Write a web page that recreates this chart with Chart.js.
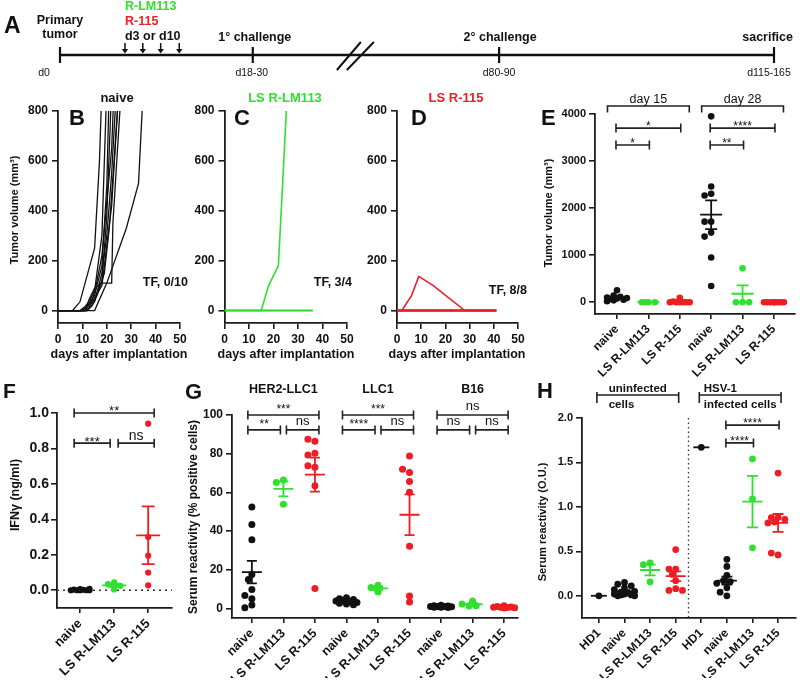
<!DOCTYPE html>
<html>
<head>
<meta charset="utf-8">
<script src="https://cdn.jsdelivr.net/npm/chart.js@4.4.1/dist/chart.umd.min.js"></script>
<style>
html,body{margin:0;padding:0;background:#fff;}
#wrap{position:relative;width:800px;height:685px;overflow:hidden;background:#fff;}
#wrap canvas{position:absolute;left:0;top:0;width:800px;height:685px;}
</style>
</head>
<body>
<div id="wrap">
<canvas id="cA" width="800" height="685"></canvas>
<canvas id="cB" width="800" height="685"></canvas>
<canvas id="cC" width="800" height="685"></canvas>
<canvas id="cD" width="800" height="685"></canvas>
<canvas id="cE" width="800" height="685"></canvas>
<canvas id="cF" width="800" height="685"></canvas>
<canvas id="cG" width="800" height="685"></canvas>
<canvas id="cH" width="800" height="685"></canvas>
</div>
<script>
// ======================= DATA =======================
// Panel A (schematic timeline, positions along a 0-100 schematic axis)
const A_dateLabels = ['d0', 'd18-30', 'd80-90', 'd115-165'];
const A_eventNames = ['', '1° challenge', '2° challenge', 'sacrifice'];
const A_eventPos = [0, 27, 61.5, 100];
const A_arrowPos = [9.1, 11.6, 14.1, 16.7];
const A_breakPos = 41.3;

// Panels B-D: tumour growth curves (days after implantation, volume mm3)
const BCD_xTicks = [0, 10, 20, 30, 40, 50];
const BCD_yTicks = [0, 200, 400, 600, 800];
const B_days = [
  [0, 6, 9, 15, 17, 18],
  [0, 9, 11, 13, 15, 18, 20],
  [0, 10, 13, 15, 18, 20, 21],
  [0, 10, 12, 15, 18, 20, 22],
  [0, 11, 13, 15, 18, 22, 23],
  [0, 11, 13, 15, 18, 20, 22, 24],
  [0, 12, 15, 18, 22, 25],
  [0, 11, 13, 15, 18, 22, 22.5, 26],
  [0, 12, 14, 16, 19, 21, 23, 25],
  [0, 15, 20, 28, 33, 35]
];
const B_vol = [
  [0, 0, 35, 250, 600, 900],
  [0, 0, 15, 40, 80, 300, 900],
  [0, 0, 30, 60, 180, 500, 900],
  [0, 0, 20, 45, 120, 380, 900],
  [0, 0, 25, 70, 220, 650, 900],
  [0, 0, 10, 35, 150, 300, 550, 900],
  [0, 0, 50, 100, 420, 900],
  [0, 0, 50, 90, 110, 110, 350, 900],
  [0, 0, 20, 60, 150, 330, 600, 900],
  [0, 0, 110, 330, 510, 900]
];
const C_days = [[0, 15, 18, 22, 24, 26], [0, 36], [0, 36], [0, 36]];
const C_vol = [[0, 0, 100, 180, 560, 950], [0, 0], [0, 0], [0, 0]];
const D_days = [[0, 2, 6, 9, 15, 28, 41], [0, 41], [0, 41], [0, 41], [0, 41], [0, 41], [0, 41], [0, 41]];
const D_vol = [[0, 0, 60, 137, 100, 0, 0], [0, 0], [0, 0], [0, 0], [0, 0], [0, 0], [0, 0], [0, 0]];

// Panel E: tumour volume at day 15 / day 28
const E_categories = ['naive', 'LS R-LM113', 'LS R-115', 'naive', 'LS R-LM113', 'LS R-115'];
const E_yTicks = [0, 1000, 2000, 3000, 4000];
const E_naive15 = [255, 140, 115, 100, 90, 80, 70, 55, 40, 20];
const E_lm15 = [0, 0, 0, 0];
const E_r15 = [95, 15, 0, 0, 0, 0, 0, 0];
const E_naive28 = [3950, 2459, 2304, 2269, 1712, 1712, 1480, 1395, 951, 345];
const E_lm28 = [720, 0, 0, 0];
const E_r28 = [0, 0, 0, 0, 0, 0, 0, 0];
const E_mean = [96, 0, 14, 1860, 180, 0];
const E_sem = [22, 0, 12, 305, 180, 0];
const E_headers = ['day 15', 'day 28'];
const E_headerRanges = [[0, 2], [3, 5]];
const E_sigPairs = [[0, 2], [0, 1], [3, 5], [3, 4]];
const E_sigLabels = ['*', '*', '****', '**'];

// Panel F: IFN-gamma
const F_categories = ['naive', 'LS R-LM113', 'LS R-115'];
const F_yTicks = [0, 0.2, 0.4, 0.6, 0.8, 1.0];
const F_naive = [0, 0.004, 0, 0.008, 0, 0.003, 0, 0.006, 0, 0.002];
const F_lm113 = [0.005, 0.045, 0.035, 0.025];
const F_r115 = [0.94, 0.30, 0.195, 0.10, 0.028];
const F_mean = [0.003, 0.028, 0.31];
const F_sem = [0.001, 0.009, 0.163];
const F_sigPairs = [[0, 2], [0, 1], [1, 2]];
const F_sigLabels = ['**', '***', 'ns'];

// Panel G: serum reactivity (% positive cells)
const G_categories = ['naive', 'LS R-LM113', 'LS R-115', 'naive', 'LS R-LM113', 'LS R-115', 'naive', 'LS R-LM113', 'LS R-115'];
const G_headers = ['HER2-LLC1', 'LLC1', 'B16'];
const G_yTicks = [0, 20, 40, 60, 80, 100];
const G_her2Naive = [52.4, 43.3, 35.5, 17.5, 14.9, 9.8, 5.0, 6.7, 1.7, 0.3];
const G_her2Lm113 = [66.4, 65.1, 53.9];
const G_her2R115 = [86.4, 87.4, 80.2, 79.3, 73.0, 73.7, 63.4, 10.3];
const G_llcNaive = [5.5, 5.0, 4.6, 4.2, 3.8, 3.4, 3.0, 2.6, 2.2, 1.8];
const G_llcLm113 = [12.0, 8.5, 10.8];
const G_llcR115 = [78.8, 70.2, 71.9, 65.6, 60.1, 32.1, 3.3, 6.4];
const G_b16Naive = [1.6, 1.4, 1.2, 1.0, 1.0, 0.9, 0.8, 0.6, 0.5, 0.4];
const G_b16Lm113 = [3.8, 1.2, 1.3, 2.2];
const G_b16R115 = [1.3, 0.9, 0.7, 0.6, 0.5, 0.4, 0.3, 0.2];
const G_mean = [18.7, 61.8, 69.2, 3.4, 10.3, 48.4, 1.0, 2.1, 0.6];
const G_sem = [5.8, 3.9, 8.8, 0.4, 1.0, 10.5, 0.1, 0.6, 0.15];
const G_sigPairs = [[0, 2], [0, 1], [1, 2], [3, 5], [3, 4], [4, 5], [6, 8], [6, 7], [7, 8]];
const G_sigLabels = ['***', '**', 'ns', '***', '****', 'ns', 'ns', 'ns', 'ns'];

// Panel H: serum reactivity (O.U.)
const H_categories = ['HD1', 'naive', 'LS R-LM113', 'LS R-115', 'HD1', 'naive', 'LS R-LM113', 'LS R-115'];
const H_headers = [['uninfected', 'cells'], ['HSV-1', 'infected cells']];
const H_headerRanges = [[0, 3], [4, 7]];
const H_yTicks = [0, 0.5, 1.0, 1.5, 2.0];
const H_hd1Un = [0];
const H_naiveUn = [0.15, 0.13, 0.11, 0.09, 0.07, 0.05, 0.04, 0.03, 0.02, 0.02, 0.01, 0.0, 0.0, 0.01];
const H_lm113Un = [0.37, 0.35, 0.155];
const H_r115Un = [0.52, 0.30, 0.30, 0.24, 0.17, 0.08, 0.06, 0.06];
const H_hd1Inf = [1.67];
const H_naiveInf = [0.41, 0.33, 0.23, 0.17, 0.16, 0.14, 0.09, 0.04, 0.0];
const H_lm113Inf = [1.54, 1.09, 0.54];
const H_r115Inf = [1.38, 0.88, 0.88, 0.86, 0.83, 0.82, 0.46, 0.48];
const H_mean = [0, 0.05, 0.29, 0.22, 1.67, 0.17, 1.06, 0.82];
const H_sem = [0, 0.012, 0.06, 0.055, 0, 0.045, 0.29, 0.1];
const H_sigPairs = [[5, 7], [5, 6]];
const H_sigLabels = ['****', '****'];

// ======================= STYLE / HELPERS =======================
const FONT = "'Liberation Sans', Arial, Helvetica, sans-serif";
Chart.defaults.font.family = FONT;
Chart.defaults.color = '#111';
const INK = '#111';
const AX = '#1c1c1c';
const GREEN = '#2fe02f';
const RED = '#ee1d23';
const ROT = -Math.PI / 2;

function fnt(size, weight) { return (weight || 'bold') + ' ' + size + 'px ' + FONT; }
function drawText(ctx, t) {
  ctx.save();
  ctx.font = fnt(t.size, t.weight);
  ctx.fillStyle = t.color || INK;
  ctx.textAlign = t.align || 'center';
  ctx.textBaseline = t.base || 'middle';
  ctx.translate(t.x, t.y);
  if (t.rot) ctx.rotate(t.rot);
  ctx.fillText(t.text, 0, 0);
  ctx.restore();
}
const textPlugin = (items) => ({ id: 'txt', afterDraw(chart) { items.forEach(t => drawText(chart.ctx, t)); } });

function geom(g, yW, xH) {
  return { padding: { left: g.L - yW, right: 800 - g.R, top: g.T, bottom: 685 - g.B - xH } };
}
function axis(o) {
  return {
    type: 'linear', position: o.pos, min: o.min, max: o.max,
    afterBuildTicks: s => { s.ticks = o.ticks.map(v => ({ value: v })); },
    afterFit: s => { if (o.pos === 'left') s.width = o.size; else s.height = o.size; },
    grid: { display: true, drawOnChartArea: false, drawTicks: true, tickLength: o.tl || 6, color: AX, lineWidth: 1.6 },
    border: { display: true, color: AX, width: 1.8 },
    ticks: {
      autoSkip: false, padding: o.pad == null ? 3 : o.pad,
      maxRotation: o.rot || 0, minRotation: o.rot || 0,
      font: { size: o.fs, weight: 'bold' }, color: INK, callback: o.fmt
    }
  };
}
function build(id, datasets, scales, layout, plugins) {
  return new Chart(document.getElementById(id), {
    type: 'scatter',
    data: { datasets },
    options: {
      responsive: false, animation: false, events: [], layout, scales,
      plugins: { legend: { display: false }, tooltip: { enabled: false } }
    },
    plugins
  });
}
// beeswarm-like horizontal spreading of overlapping dots (layout only)
function swarm(vals, pxV, pxC, r) {
  const minD = 1.7 * r, step = r, maxK = 6;
  const placed = [];
  return vals.map(v => {
    const y = v * pxV;
    let best = 0, bestD = -1;
    for (let k = 0; k <= maxK; k++) {
      const x = (k % 2 ? -1 : 1) * Math.ceil(k / 2) * step;
      let d = Infinity;
      for (const p of placed) d = Math.min(d, Math.hypot(p.x - x, p.y - y));
      if (d >= minD) { best = x; break; }
      if (d > bestD) { bestD = d; best = x; }
    }
    placed.push({ x: best, y });
    return best / pxC;
  });
}
function errPlugin(means, sems, colors, mh, ch, lw) {
  return {
    id: 'err', afterDatasetsDraw(chart) {
      const { ctx, scales: { x, y } } = chart;
      ctx.save(); ctx.lineWidth = lw;
      means.forEach((m, i) => {
        const px = x.getPixelForValue(i), py = y.getPixelForValue(m);
        const half = Array.isArray(mh) ? mh[i] : mh;
        ctx.strokeStyle = colors[i];
        ctx.beginPath(); ctx.moveTo(px - half, py); ctx.lineTo(px + half, py);
        const s = sems[i];
        if (s) {
          const yt = y.getPixelForValue(m + s), yb = y.getPixelForValue(m - s);
          ctx.moveTo(px, yt); ctx.lineTo(px, yb);
          ctx.moveTo(px - ch, yt); ctx.lineTo(px + ch, yt);
          ctx.moveTo(px - ch, yb); ctx.lineTo(px + ch, yb);
        }
        ctx.stroke();
      });
      ctx.restore();
    }
  };
}
function sigPlugin(pairs, labels, rowVals, st) {
  return {
    id: 'sig', afterDraw(chart) {
      const { ctx, scales: { x, y } } = chart;
      ctx.save(); ctx.strokeStyle = '#222'; ctx.lineWidth = 1.6; ctx.fillStyle = INK;
      pairs.forEach((p, k) => {
        const [a, b] = p;
        const xl = x.getPixelForValue(a) + (pairs.some(q => q[1] === a) ? st.gap : -st.ext);
        const xr = x.getPixelForValue(b) + (pairs.some(q => q[0] === b) ? -st.gap : st.ext);
        const rowIdx = (b - a > 1) ? 0 : 1;
        const yy = y.getPixelForValue(rowVals[rowIdx]);
        ctx.beginPath();
        ctx.moveTo(xl, yy); ctx.lineTo(xr, yy);
        ctx.moveTo(xl, yy - 4.5); ctx.lineTo(xl, yy + 4.5);
        ctx.moveTo(xr, yy - 4.5); ctx.lineTo(xr, yy + 4.5);
        ctx.stroke();
        const lab = labels[k];
        const isNs = lab === 'ns';
        const size = isNs ? st.nsSize : st.starSize;
        const lift = isNs ? st.nsLift : st.starLift;
        ctx.font = fnt(size, 'normal');
        ctx.textAlign = 'center'; ctx.textBaseline = 'alphabetic';
        const base = yy - lift + (isNs ? 0.26 : 0.57) * size;
        ctx.fillText(lab, (xl + xr) / 2, base);
      });
      ctx.restore();
    }
  };
}

// ======================= PANEL A =======================
const GA = { L: 60, R: 774, T: 40, B: 70 };
new Chart(document.getElementById('cA'), {
  type: 'scatter',
  data: {
    datasets: [
      { data: [{ x: 0, y: 0 }, { x: 100, y: 0 }], showLine: true, borderColor: INK, borderWidth: 2.6, pointRadius: 0, clip: false },
      { data: A_eventPos.map(p => ({ x: p, y: 0 })), pointStyle: 'line', pointRotation: 90, pointRadius: 8, borderColor: INK, borderWidth: 2.2, clip: false }
    ]
  },
  options: {
    responsive: false, animation: false, events: [],
    layout: { padding: { left: GA.L, right: 800 - GA.R, top: GA.T, bottom: 685 - GA.B } },
    scales: { x: { type: 'linear', min: 0, max: 100, display: false }, y: { type: 'linear', min: -1, max: 1, display: false } },
    plugins: { legend: { display: false }, tooltip: { enabled: false } }
  },
  plugins: [{
    id: 'timeline', afterDraw(chart) {
      const { ctx, scales: { x, y } } = chart;
      const y0 = y.getPixelForValue(0);
      ctx.save();
      ctx.strokeStyle = INK; ctx.fillStyle = INK; ctx.lineWidth = 1.5;
      A_arrowPos.forEach(p => {
        const px = x.getPixelForValue(p);
        ctx.beginPath(); ctx.moveTo(px, y0 - 12); ctx.lineTo(px, y0 - 5); ctx.stroke();
        ctx.beginPath(); ctx.moveTo(px - 3.2, y0 - 6); ctx.lineTo(px + 3.2, y0 - 6); ctx.lineTo(px, y0 - 1.5); ctx.closePath(); ctx.fill();
      });
      const xb = x.getPixelForValue(A_breakPos);
      ctx.lineWidth = 2;
      ctx.beginPath();
      ctx.moveTo(xb - 18, y0 + 15); ctx.lineTo(xb + 6, y0 - 13);
      ctx.moveTo(xb - 8, y0 + 15); ctx.lineTo(xb + 19, y0 - 13);
      ctx.stroke();
      ctx.restore();
      const nameShift = [0, 2, 1, 19], nameAlign = ['center', 'center', 'center', 'right'];
      const dateShift = [-16, -1, 0, -5];
      A_eventPos.forEach((p, i) => {
        const px = x.getPixelForValue(p);
        if (A_eventNames[i]) drawText(ctx, { text: A_eventNames[i], x: px + nameShift[i], y: y0 - 17, size: 12.5, align: nameAlign[i] });
        drawText(ctx, { text: A_dateLabels[i], x: px + dateShift[i], y: y0 + 18, size: 10.5, weight: 'normal' });
      });
      const ax0 = x.getPixelForValue(A_arrowPos[0]);
      drawText(ctx, { text: 'A', x: 4, y: 27, size: 23, align: 'left' });
      drawText(ctx, { text: 'Primary', x: x.getPixelForValue(0), y: 21, size: 12.5 });
      drawText(ctx, { text: 'tumor', x: x.getPixelForValue(0), y: 35, size: 12.5 });
      drawText(ctx, { text: 'R-LM113', x: ax0, y: 7, size: 12.5, align: 'left', color: GREEN });
      drawText(ctx, { text: 'R-115', x: ax0, y: 22, size: 12.5, align: 'left', color: RED });
      drawText(ctx, { text: 'd3 or d10', x: ax0, y: 37, size: 12.5, align: 'left' });
    }
  }]
});

// ======================= PANELS B-D =======================
function growthPanel(id, g, days, vols, color, lw, texts) {
  const ds = days.map((d, m) => ({
    data: d.map((xv, k) => ({ x: xv, y: vols[m][k] })),
    showLine: true, borderColor: color, borderWidth: lw, pointRadius: 0, tension: 0
  }));
  build(id, ds, {
    x: axis({ pos: 'bottom', min: 0, max: 50, ticks: BCD_xTicks, size: 30, fs: 12, fmt: v => v }),
    y: axis({ pos: 'left', min: -50, max: 800, ticks: BCD_yTicks, size: 40, fs: 12, fmt: v => v, pad: 4 })
  }, geom(g, 40, 30), [textPlugin(texts)]);
}
const GB = { L: 58, R: 180, T: 111, B: 323 };
const GC = { L: 224.5, R: 347, T: 111, B: 323 };
const GD = { L: 397, R: 518, T: 111, B: 323 };
growthPanel('cB', GB, B_days, B_vol, INK, 1.3, [
  { text: 'B', x: 69, y: 119, size: 22, align: 'left' },
  { text: 'naive', x: 117, y: 98, size: 13 },
  { text: 'TF, 0/10', x: 188, y: 283, size: 12.5, align: 'right' },
  { text: 'Tumor volume (mm³)', x: 15, y: 210, size: 11, rot: ROT },
  { text: 'days after implantation', x: 119, y: 355, size: 12.5 }
]);
growthPanel('cC', GC, C_days, C_vol, GREEN, 1.6, [
  { text: 'C', x: 234, y: 119, size: 22, align: 'left' },
  { text: 'LS R-LM113', x: 285, y: 98, size: 13, color: GREEN },
  { text: 'TF, 3/4', x: 352, y: 283, size: 12.5, align: 'right' },
  { text: 'days after implantation', x: 286, y: 355, size: 12.5 }
]);
growthPanel('cD', GD, D_days, D_vol, RED, 1.6, [
  { text: 'D', x: 411, y: 119, size: 22, align: 'left' },
  { text: 'LS R-115', x: 456, y: 98, size: 13, color: RED },
  { text: 'TF, 8/8', x: 527, y: 291, size: 12.5, align: 'right' },
  { text: 'days after implantation', x: 457, y: 355, size: 12.5 }
]);

// ======================= DOT PANELS =======================
function dotPanel(o) {
  const pxV = (o.g.B - o.g.T) / (o.ymax - o.ymin);
  const pxC = (o.g.R - o.g.L) / (o.xmax - o.xmin);
  const ds = o.groups.map((vals, i) => {
    const offs = swarm(vals, pxV, pxC, o.r);
    return {
      data: vals.map((v, k) => ({ x: i + offs[k], y: v })),
      backgroundColor: o.colors[i], borderColor: o.colors[i], borderWidth: 0,
      pointRadius: o.r, clip: false
    };
  });
  const plugins = [];
  if (o.under) plugins.push(o.under);
  plugins.push(errPlugin(o.means, o.sems, o.colors, o.mh, o.ch, 1.8));
  plugins.push(sigPlugin(o.pairs, o.labels, o.rows, o.sigStyle));
  if (o.over) plugins.push(o.over);
  plugins.push(textPlugin(o.texts));
  build(o.id, ds, {
    x: axis({ pos: 'bottom', min: o.xmin, max: o.xmax, ticks: o.cats.map((c, i) => i), size: o.xH, fs: o.xfs, rot: 45, tl: 5, fmt: (v, i) => o.cats[i] }),
    y: axis({ pos: 'left', min: o.ymin, max: o.ymax, ticks: o.yTicks, size: 40, fs: o.yfs, fmt: o.yfmt, pad: o.ypad == null ? 3 : o.ypad })
  }, geom(o.g, 40, o.xH), plugins);
}

// ---- E ----
const GE = { L: 595, R: 795, T: 114, B: 314 };
dotPanel({
  id: 'cE', g: GE, xmin: -0.70, xmax: 5.67, ymin: -250, ymax: 4000, cats: E_categories, yTicks: E_yTicks,
  groups: [E_naive15, E_lm15, E_r15, E_naive28, E_lm28, E_r28],
  colors: [INK, GREEN, RED, INK, GREEN, RED], r: 3.3, means: E_mean, sems: E_sem, mh: 11, ch: 6,
  pairs: E_sigPairs, labels: E_sigLabels, rows: [3700, 3340],
  sigStyle: { gap: 3, ext: 1, starSize: 12, nsSize: 13, starLift: 5, nsLift: 7 },
  xH: 70, xfs: 12, yfs: 11, yfmt: v => v,
  over: {
    id: 'hdrE', afterDraw(chart) {
      const { ctx, scales: { x }, chartArea } = chart;
      ctx.save(); ctx.strokeStyle = '#222'; ctx.lineWidth = 1.6;
      E_headerRanges.forEach((r, i) => {
        const xl = x.getPixelForValue(r[0]) - 9.5, xr = x.getPixelForValue(r[1]) + 9.5;
        const yb = chartArea.top - 8;
        ctx.beginPath();
        ctx.moveTo(xl, yb + 6.5); ctx.lineTo(xl, yb); ctx.lineTo(xr, yb); ctx.lineTo(xr, yb + 6.5);
        ctx.stroke();
        drawText(ctx, { text: E_headers[i], x: (xl + xr) / 2, y: yb - 6, size: 12.5, weight: 'normal' });
      });
      ctx.restore();
    }
  },
  texts: [
    { text: 'E', x: 541, y: 119, size: 22, align: 'left' },
    { text: 'Tumor volume (mm³)', x: 549, y: 213, size: 11, rot: ROT }
  ]
});

// ---- F ----
const GF = { L: 57, R: 172, T: 413, B: 608 };
dotPanel({
  id: 'cF', g: GF, xmin: -0.68, xmax: 2.7, ymin: -0.1, ymax: 1.0, cats: F_categories, yTicks: F_yTicks,
  groups: [F_naive, F_lm113, F_r115], colors: [INK, GREEN, RED], r: 3.1,
  means: F_mean, sems: F_sem, mh: 12, ch: 6.5,
  pairs: F_sigPairs, labels: F_sigLabels, rows: [1.0, 0.83],
  sigStyle: { gap: 4, ext: 6, starSize: 13, nsSize: 14, starLift: 5, nsLift: 7 },
  xH: 70, xfs: 13, yfs: 14, yfmt: v => v.toFixed(1), ypad: 2,
  under: {
    id: 'zeroF', beforeDatasetsDraw(chart) {
      const { ctx, scales: { y }, chartArea } = chart;
      const y0 = y.getPixelForValue(0);
      ctx.save(); ctx.strokeStyle = '#333'; ctx.lineWidth = 1.5; ctx.setLineDash([2, 4]);
      ctx.beginPath(); ctx.moveTo(chartArea.left, y0); ctx.lineTo(chartArea.right, y0); ctx.stroke();
      ctx.restore();
    }
  },
  texts: [
    { text: 'F', x: 3, y: 392, size: 21, align: 'left' },
    { text: 'IFNγ (ng/ml)', x: 16, y: 495, size: 12.5, rot: ROT }
  ]
});

// ---- G ----
const GG = { L: 232, R: 518, T: 415, B: 618 };
dotPanel({
  id: 'cG', g: GG, xmin: -0.63, xmax: 8.44, ymin: -5, ymax: 100, cats: G_categories, yTicks: G_yTicks,
  groups: [G_her2Naive, G_her2Lm113, G_her2R115, G_llcNaive, G_llcLm113, G_llcR115, G_b16Naive, G_b16Lm113, G_b16R115],
  colors: [INK, GREEN, RED, INK, GREEN, RED, INK, GREEN, RED], r: 3.5,
  means: G_mean, sems: G_sem, mh: 10, ch: 5,
  pairs: G_sigPairs, labels: G_sigLabels, rows: [100, 92.3],
  sigStyle: { gap: 3, ext: 4, starSize: 12, nsSize: 13, starLift: 9, nsLift: 8 },
  xH: 60, xfs: 12.5, yfs: 12, yfmt: v => v,
  over: {
    id: 'hdrG', afterDraw(chart) {
      const { ctx, scales: { x }, chartArea } = chart;
      G_headers.forEach((h, i) => {
        drawText(ctx, { text: h, x: x.getPixelForValue(i * 3 + 1), y: chartArea.top - 25, size: 12.5 });
      });
    }
  },
  texts: [
    { text: 'G', x: 185, y: 393, size: 22, align: 'left' },
    { text: 'Serum reactivity (% positive cells)', x: 194, y: 517, size: 12, rot: ROT }
  ]
});

// ---- H ----
const GH = { L: 582, R: 797, T: 418, B: 618 };
dotPanel({
  id: 'cH', g: GH, xmin: -0.66, xmax: 7.7, ymin: -0.25, ymax: 2.0, cats: H_categories, yTicks: H_yTicks,
  groups: [H_hd1Un, H_naiveUn, H_lm113Un, H_r115Un, H_hd1Inf, H_naiveInf, H_lm113Inf, H_r115Inf],
  colors: [INK, INK, GREEN, RED, INK, INK, GREEN, RED], r: 3.4,
  means: H_mean, sems: H_sem, mh: [8, 10, 10, 10, 8, 10, 10, 10], ch: 5.5,
  pairs: H_sigPairs, labels: H_sigLabels, rows: [1.92, 1.72],
  sigStyle: { gap: 3, ext: 1, starSize: 12, nsSize: 13, starLift: 5, nsLift: 7 },
  xH: 60, xfs: 12, yfs: 11, yfmt: v => v.toFixed(1),
  under: {
    id: 'sepH', beforeDatasetsDraw(chart) {
      const { ctx, scales: { x }, chartArea } = chart;
      const xs = x.getPixelForValue(3.5);
      ctx.save(); ctx.strokeStyle = '#333'; ctx.lineWidth = 1.3; ctx.setLineDash([1.5, 3]);
      ctx.beginPath(); ctx.moveTo(xs, chartArea.top); ctx.lineTo(xs, chartArea.bottom); ctx.stroke();
      ctx.restore();
    }
  },
  over: {
    id: 'hdrH', afterDraw(chart) {
      const { ctx, scales: { x }, chartArea } = chart;
      ctx.save(); ctx.strokeStyle = '#222'; ctx.lineWidth = 1.6;
      H_headerRanges.forEach((r, i) => {
        const xl = x.getPixelForValue(r[0]) - 2, xr = x.getPixelForValue(r[1]) + 3;
        const yb = chartArea.top - 23;
        ctx.beginPath();
        ctx.moveTo(xl, yb); ctx.lineTo(xr, yb);
        ctx.moveTo(xl, yb - 3); ctx.lineTo(xl, yb + 8);
        ctx.moveTo(xr, yb - 3); ctx.lineTo(xr, yb + 8);
        ctx.stroke();
        ctx.font = fnt(11.5);
        const lines = H_headers[i];
        const w = Math.max(...lines.map(l => ctx.measureText(l).width));
        const left = (xl + xr) / 2 - w / 2;
        drawText(ctx, { text: lines[0], x: left, y: yb - 6, size: 11.5, align: 'left' });
        drawText(ctx, { text: lines[1], x: left, y: yb + 10, size: 11.5, align: 'left' });
      });
      ctx.restore();
    }
  },
  texts: [
    { text: 'H', x: 537, y: 392, size: 22, align: 'left' },
    { text: 'Serum reactivity (O.U.)', x: 543, y: 522, size: 11, rot: ROT }
  ]
});
</script>
</body>
</html>
